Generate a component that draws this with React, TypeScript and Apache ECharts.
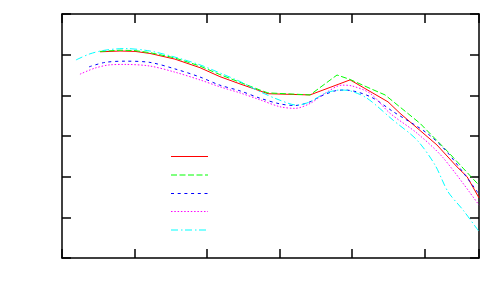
import React, { useEffect, useRef } from "react";
import * as echarts from "echarts";

const seriesNames = ["s1", "s2", "s3", "s4", "s5"];

const redX = [2.1, 3.2, 4.03, 4.85, 6.23, 7.61, 8.71, 9.82, 10.92, 11.36, 13.68, 15.89, 17.98, 18.64, 20.68, 21.79, 22.34, 23.0];
const redY = [50.7, 50.9, 50.8, 50.3, 48.9, 46.8, 44.6, 42.8, 41.1, 40.4, 40.1, 43.8, 38.4, 35.6, 27.8, 22.4, 20.0, 14.8];

const greenX = [2.1, 3.2, 4.03, 4.85, 6.23, 7.61, 8.71, 9.82, 10.92, 11.36, 13.68, 15.17, 15.89, 16.99, 17.82, 19.75, 21.29, 22.12, 23.0];
const greenY = [50.8, 51.1, 51.0, 50.5, 49.2, 47.2, 45.1, 43.2, 41.3, 40.6, 40.1, 45.0, 43.9, 41.7, 40.1, 33.1, 26.1, 22.1, 17.9];

const blueX = [1.49, 2.37, 3.47, 4.85, 6.23, 7.61, 8.71, 9.82, 10.92, 12.02, 12.85, 13.68, 14.23, 15.06, 15.61, 16.99, 18.26, 20.13, 21.29, 23.0];
const blueY = [47.0, 48.1, 48.4, 48.1, 46.5, 44.5, 42.5, 41.1, 39.3, 37.9, 37.5, 38.4, 39.7, 41.1, 41.3, 39.7, 36.0, 30.7, 25.8, 15.7];

const magentaX = [0.99, 1.82, 2.65, 3.47, 4.85, 6.23, 7.61, 8.71, 9.82, 10.92, 12.02, 12.85, 13.68, 14.51, 15.44, 16.0, 16.99, 18.09, 19.58, 21.01, 23.0];
const magentaY = [45.2, 46.7, 47.5, 47.6, 47.2, 45.7, 43.8, 42.1, 40.6, 38.9, 37.2, 36.8, 38.0, 40.5, 42.5, 42.3, 40.5, 35.6, 30.7, 24.7, 13.0];

const cyanX = [0.77, 1.54, 2.37, 3.47, 4.85, 6.23, 7.61, 8.71, 9.82, 10.92, 12.02, 12.96, 13.68, 14.51, 15.33, 15.89, 16.82, 18.26, 19.58, 20.57, 21.29, 22.12, 23.0];
const cyanY = [48.7, 50.2, 51.1, 51.5, 50.9, 49.4, 47.5, 45.5, 43.4, 40.9, 38.8, 37.6, 38.4, 40.5, 41.3, 41.1, 39.3, 33.9, 29.0, 22.9, 16.3, 11.8, 6.5];

const xMin = 0;
const xMax = 23;
const xInterval = 4;
const yMin = 0;
const yMax = 60;
const yInterval = 10;

const colors = ["#ff0000", "#00ff00", "#0000ff", "#ff00ff", "#00ffff"];
const dashes: (string | number[])[] = ["solid", [6, 2.5], [3, 3.7], [1.5, 1.8], [7, 3, 1.5, 2.5]];

const zip = (xs: number[], ys: number[]) => xs.map((x, i) => [x, ys[i]]);

export default function App() {
  const ref = useRef<HTMLDivElement>(null);
  useEffect(() => {
    if (!ref.current) return;
    const chart = echarts.init(ref.current, null, { renderer: "svg" });
    const axisLine = { show: true, onZero: false, lineStyle: { color: "#000", width: 1.5 } };
    const axisTick = { show: true, inside: true, length: 9, lineStyle: { color: "#000", width: 1.5 } };
    const xBase = {
      type: "value" as const,
      min: xMin,
      max: xMax,
      interval: xInterval,
      axisLine,
      axisTick,
      axisLabel: { show: false },
      splitLine: { show: false },
    };
    const yBase = {
      type: "value" as const,
      min: yMin,
      max: yMax,
      interval: yInterval,
      axisLine,
      axisTick,
      axisLabel: { show: false },
      splitLine: { show: false },
    };
    const mk = (i: number, xs: number[], ys: number[], smooth: number | boolean) => ({
      name: seriesNames[i],
      type: "line" as const,
      data: zip(xs, ys),
      symbol: "none",
      smooth,
      lineStyle: { color: colors[i], width: 1, type: dashes[i] },
      itemStyle: { color: colors[i] },
    });
    const legendYs = [156.5, 175, 193.5, 211.5, 230];
    const legendLines = legendYs.map((y, i) => ({
      type: "line",
      silent: true,
      shape: { x1: 171, y1: y, x2: 208, y2: y },
      style: {
        stroke: colors[i],
        lineWidth: 1,
        lineDash: typeof dashes[i] === "string" ? null : dashes[i],
      },
    }));
    chart.setOption({
      animation: false,
      backgroundColor: "#fff",
      grid: { left: 62, right: 21, top: 14, bottom: 42 },
      xAxis: [
        { ...xBase, position: "bottom" },
        { ...xBase, position: "top" },
      ],
      yAxis: [
        { ...yBase, position: "left" },
        { ...yBase, position: "right" },
      ],
      graphic: legendLines,
      series: [
        mk(0, redX, redY, false),
        mk(1, greenX, greenY, false),
        mk(2, blueX, blueY, 0.3),
        mk(3, magentaX, magentaY, 0.3),
        mk(4, cyanX, cyanY, 0.3),
      ],
    });
    return () => chart.dispose();
  }, []);
  return (
    <div
      ref={ref}
      style={{ position: "fixed", left: 0, top: 0, width: 500, height: 300, background: "#fff" }}
    />
  );
}
